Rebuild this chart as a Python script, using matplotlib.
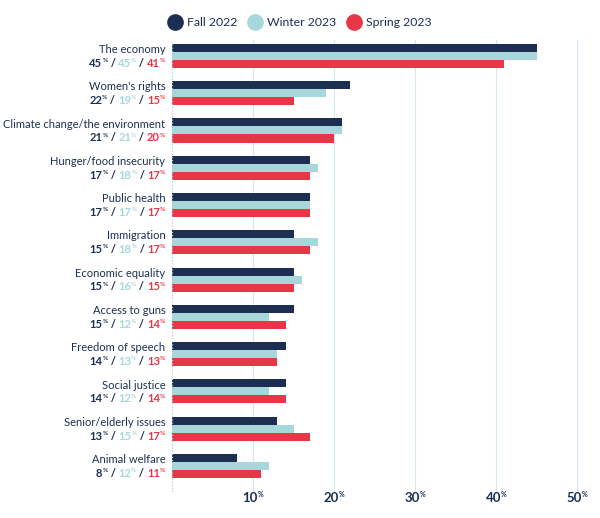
import matplotlib
matplotlib.use("Agg")
import matplotlib.pyplot as plt
from matplotlib.lines import Line2D

categories = ["The economy", "Women's rights", "Climate change/the environment",
              "Hunger/food insecurity", "Public health", "Immigration",
              "Economic equality", "Access to guns", "Freedom of speech",
              "Social justice", "Senior/elderly issues", "Animal welfare"]
fall_2022 = [45, 22, 21, 17, 17, 15, 15, 15, 14, 14, 13, 8]
winter_2023 = [45, 19, 21, 18, 17, 18, 16, 12, 13, 12, 15, 12]
spring_2023 = [41, 15, 20, 17, 17, 17, 15, 14, 13, 14, 17, 11]
series_names = ["Fall 2022", "Winter 2023", "Spring 2023"]
ticks = [10, 20, 30, 40, 50]

NAVY = "#1c2f53"
TEAL = "#a6d8db"
RED = "#e73747"
GRID = "#d3e9ef"
colors = [NAVY, TEAL, RED]

plt.rcParams["font.family"] = ["Lato", "DejaVu Sans"]

fig = plt.figure(figsize=(6, 5.18), dpi=100)
ax = fig.add_axes([0.287, 0.05, 0.695, 0.873])
renderer = fig.canvas.get_renderer()

h = 0.215
for i, vals in enumerate([fall_2022, winter_2023, spring_2023]):
    ys = [k + (i - 1) * h for k in range(len(categories))]
    ax.barh(ys, vals, height=h, color=colors[i], zorder=3)

ax.set_xlim(0, 51.5)
ax.set_ylim(11.70, -0.43)
for t in ticks:
    ax.axvline(t, color=GRID, lw=0.8, zorder=1)
ax.axvline(0, color="#9fd0dc", lw=0.9, ls=(0, (1, 1.5)), zorder=4)
for s in ax.spines.values():
    s.set_visible(False)
ax.set_xticks([])
ax.set_yticks([])


def pieces(parts, x, y, xycoords, ha="right", dy=0, dx=0):
    # parts: list of (text, color, size, superscript), all bold
    widths = []
    objs = []
    for s, c, size, sup in parts:
        t = ax.annotate(s, xy=(x, y), xycoords=xycoords, xytext=(0, 0),
                        textcoords="offset points", color=c, fontsize=size,
                        fontweight="bold", va="baseline", ha="left",
                        annotation_clip=False)
        objs.append((t, sup))
        widths.append(t.get_window_extent(renderer).width * 72 / fig.dpi)
    total = sum(widths)
    off = dx - total if ha == "right" else dx - total / 2
    for (t, sup), wd in zip(objs, widths):
        t.xyann = (off, dy + (3.4 if sup else 0))
        off += wd


ytr = ax.get_yaxis_transform()
for k, cat in enumerate(categories):
    ax.annotate(cat, xy=(0, k - 0.17), xycoords=ytr, xytext=(-5, 0),
                textcoords="offset points", ha="right", va="center",
                color=NAVY, fontsize=8, annotation_clip=False)
    parts = []
    labels = [fall_2022[k], winter_2023[k], spring_2023[k]]
    for j, (v, c) in enumerate(zip(labels, colors)):
        parts.append((str(v), c, 8, False))
        parts.append(("%", c, 4.6, True))
        if j < 2:
            parts.append((" / ", NAVY, 8, False))
    pieces(parts, 0, k + h, ytr, ha="right", dy=-2, dx=-5)

xtr = ax.get_xaxis_transform()
for t in ticks:
    pieces([(str(t), NAVY, 9.5, False), ("%", NAVY, 5, True)],
           t, 0, xtr, ha="center", dy=-7)

handles = [Line2D([0], [0], marker="o", ls="", markersize=11,
                  markerfacecolor=c, markeredgecolor=c) for c in colors]
fig.legend(handles, series_names, loc="center", bbox_to_anchor=(0.5, 0.956),
           ncol=3, frameon=False, fontsize=8.8, handletextpad=0.45,
           columnspacing=0.9, labelcolor=NAVY, handlelength=1.1)

fig.savefig("out.png", dpi=100)
